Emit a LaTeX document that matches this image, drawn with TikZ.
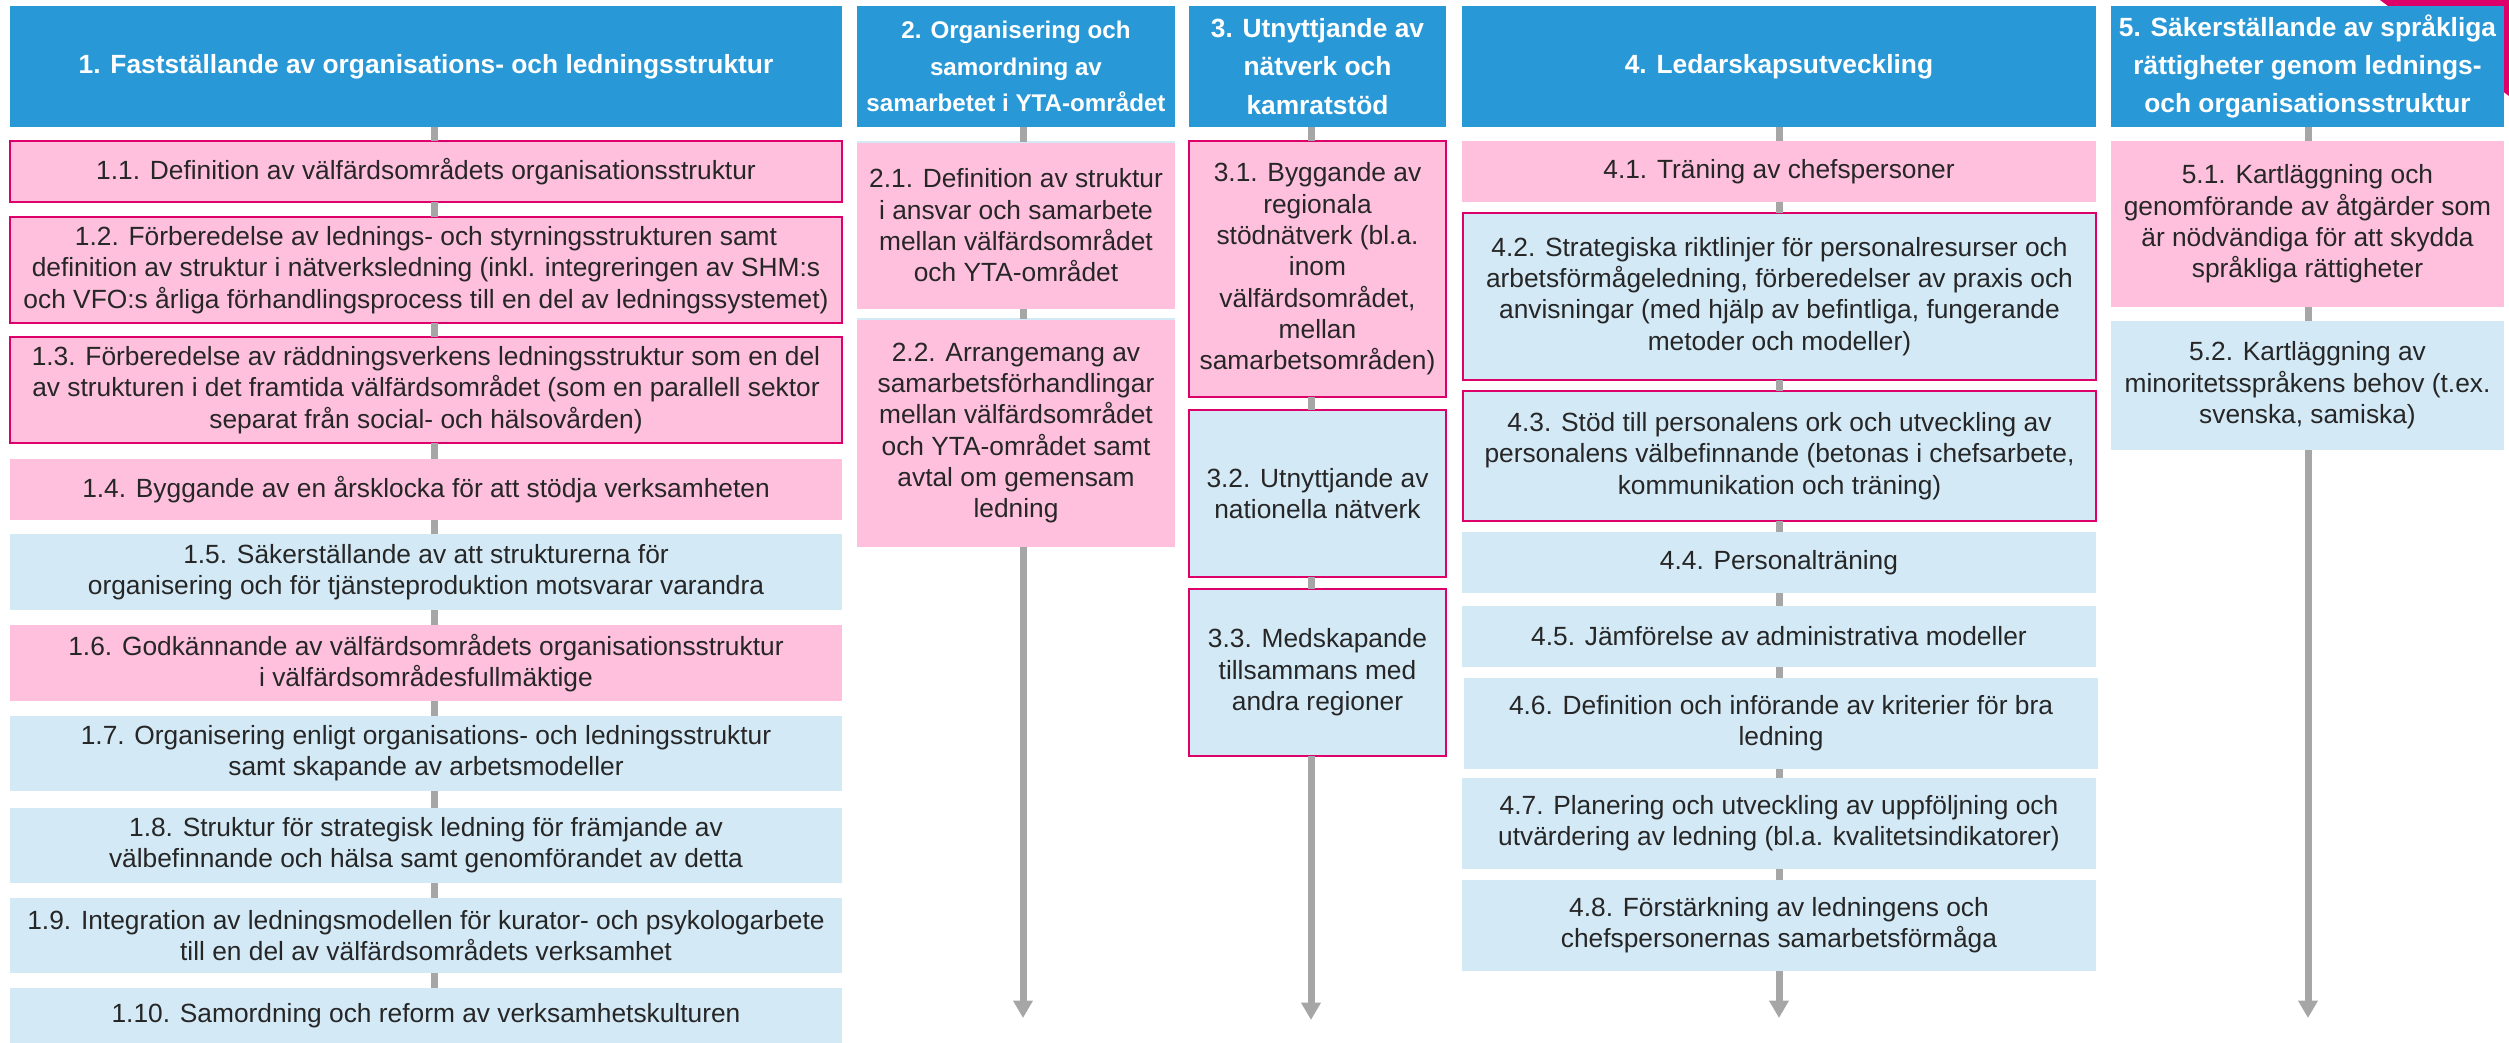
\documentclass[tikz,border=0pt]{standalone}
\usepackage{fontspec}
\setmainfont{Liberation Sans}
\usetikzlibrary{arrows.meta}
\definecolor{hdrblue}{RGB}{41,152,214}
\definecolor{pinkf}{RGB}{255,192,222}
\definecolor{lblue}{RGB}{211,233,246}
\definecolor{mag}{RGB}{222,0,106}
\definecolor{txt}{RGB}{38,38,38}
\definecolor{spine}{RGB}{166,166,166}
\newcommand{\bx}[7]{\node[#6, anchor=north west, minimum width={(#4-#2)*0.3pt}, minimum height={(#5-#3)*0.3pt}] (#1) at (#2,#3) {#7};}
\tikzset{
  base/.style={inner sep=0pt, outer sep=0pt, align=center},
  hdr/.style={base, fill=hdrblue, text=white, font=\bfseries\fontsize{7.9}{11.5}\selectfont},
  hdrs/.style={hdr, font=\bfseries\fontsize{7.25}{11}\selectfont},
  pk/.style={base, fill=pinkf, text=txt, font=\fontsize{7.9}{9.4}\selectfont},
  pkb/.style={pk, draw=mag, line width=0.8pt},
  lb/.style={base, fill=lblue, text=txt, font=\fontsize{7.9}{9.4}\selectfont},
  lbb/.style={lb, draw=mag, line width=0.8pt},
  conn/.style={draw=spine, line width=2.1pt},
  arr/.style={conn, -{Triangle[width=5.6pt,length=5.2pt]}}
}
\begin{document}
\begin{tikzpicture}[x=0.3pt,y=-0.3pt]
\useasboundingbox (0,0) rectangle (2509,1042);
\fill[mag] (2380,0) -- (2509,0) -- (2509,96) -- cycle;
% spine coordinates
\coordinate (sp1) at (434,0);
\coordinate (sp2) at (1023,0);
\coordinate (sp3) at (1311,0);
\coordinate (sp4) at (1779,0);
\coordinate (sp5) at (2308,0);
\coordinate (e2) at (1023,1018);
\coordinate (e3) at (1311,1020);
\coordinate (e4) at (1779,1018);
\coordinate (e5) at (2308,1018);
% column 1
\bx{h1}{10}{6}{842}{127}{hdr}{1. Fastställande av organisations- och ledningsstruktur}
\bx{b11}{10}{141}{842}{202}{pkb}{1.1. Definition av välfärdsområdets organisationsstruktur}
\bx{b12}{10}{217}{842}{323}{pkb}{1.2. Förberedelse av lednings- och styrningsstrukturen samt\\definition av struktur i nätverksledning (inkl. integreringen av SHM:s\\och VFO:s årliga förhandlingsprocess till en del av ledningssystemet)}
\bx{b13}{10}{337}{842}{443}{pkb}{1.3. Förberedelse av räddningsverkens ledningsstruktur som en del\\av strukturen i det framtida välfärdsområdet (som en parallell sektor\\separat från social- och hälsovården)}
\bx{b14}{10}{459}{842}{520}{pk}{1.4. Byggande av en årsklocka för att stödja verksamheten}
\bx{b15}{10}{534}{842}{610}{lb}{1.5. Säkerställande av att strukturerna för\\organisering och för tjänsteproduktion motsvarar varandra}
\bx{b16}{10}{625}{842}{701}{pk}{1.6. Godkännande av välfärdsområdets organisationsstruktur\\i välfärdsområdesfullmäktige}
\bx{b17}{10}{716}{842}{791}{lb}{1.7. Organisering enligt organisations- och ledningsstruktur\\samt skapande av arbetsmodeller}
\bx{b18}{10}{808}{842}{883}{lb}{1.8. Struktur för strategisk ledning för främjande av\\välbefinnande och hälsa samt genomförandet av detta}
\bx{b19}{10}{898}{842}{973}{lb}{1.9. Integration av ledningsmodellen för kurator- och psykologarbete\\till en del av välfärdsområdets verksamhet}
\bx{b110}{10}{988}{842}{1044}{lb}{1.10. Samordning och reform av verksamhetskulturen}
% column 2
\bx{h2}{857}{6}{1175}{127}{hdrs}{2. Organisering och\\samordning av\\samarbetet i YTA-området}
\bx{b21}{857}{142}{1175}{309}{pk}{2.1. Definition av struktur\\i ansvar och samarbete\\mellan välfärdsområdet\\och YTA-området}
\bx{b22}{857}{319}{1175}{547}{pk}{2.2. Arrangemang av\\samarbetsförhandlingar\\mellan välfärdsområdet\\och YTA-området samt\\avtal om gemensam\\ledning}
\draw[lblue, line width=0.4pt] (b21.north west) -- (b21.north east);
\draw[lblue, line width=0.4pt] (b22.north west) -- (b22.north east);
% column 3
\bx{h3}{1189}{6}{1446}{127}{hdr}{3. Utnyttjande av\\nätverk och\\kamratstöd}
\bx{b31}{1189}{141}{1446}{397}{pkb}{3.1. Byggande av\\regionala\\stödnätverk (bl.a.\\inom\\välfärdsområdet,\\mellan\\samarbetsområden)}
\bx{b32}{1189}{410}{1446}{577}{lbb}{3.2. Utnyttjande av\\nationella nätverk}
\bx{b33}{1189}{589}{1446}{756}{lbb}{3.3. Medskapande\\tillsammans med\\andra regioner}
% column 4
\bx{h4}{1462}{6}{2096}{127}{hdr}{4. Ledarskapsutveckling}
\bx{b41}{1462}{141}{2096}{202}{pk}{4.1. Träning av chefspersoner}
\bx{b42}{1463}{213}{2096}{380}{lbb}{4.2. Strategiska riktlinjer för personalresurser och\\arbetsförmågeledning, förberedelser av praxis och\\anvisningar (med hjälp av befintliga, fungerande\\metoder och modeller)}
\bx{b43}{1463}{391}{2096}{521}{lbb}{4.3. Stöd till personalens ork och utveckling av\\personalens välbefinnande (betonas i chefsarbete,\\kommunikation och träning)}
\bx{b44}{1462}{532}{2096}{593}{lb}{4.4. Personalträning}
\bx{b45}{1462}{606}{2096}{667}{lb}{4.5. Jämförelse av administrativa modeller}
\bx{b46}{1464}{678}{2098}{769}{lb}{4.6. Definition och införande av kriterier för bra\\ledning}
\bx{b47}{1462}{778}{2096}{869}{lb}{4.7. Planering och utveckling av uppföljning och\\utvärdering av ledning (bl.a. kvalitetsindikatorer)}
\bx{b48}{1462}{880}{2096}{971}{lb}{4.8. Förstärkning av ledningens och\\chefspersonernas samarbetsförmåga}
% column 5
\bx{h5}{2111}{6}{2504}{127}{hdr}{5. Säkerställande av språkliga\\rättigheter genom lednings-\\och organisationsstruktur}
\bx{b51}{2111}{141}{2504}{307}{pk}{5.1. Kartläggning och\\genomförande av åtgärder som\\är nödvändiga för att skydda\\språkliga rättigheter}
\bx{b52}{2111}{321}{2504}{450}{lb}{5.2. Kartläggning av\\minoritetsspråkens behov (t.ex.\\svenska, samiska)}
% connectors
\foreach \a/\b/\s in {h1/b11/sp1, b11/b12/sp1, b12/b13/sp1, b13/b14/sp1, b14/b15/sp1, b15/b16/sp1, b16/b17/sp1, b17/b18/sp1, b18/b19/sp1, b19/b110/sp1,
  h2/b21/sp2, b21/b22/sp2,
  h3/b31/sp3, b31/b32/sp3, b32/b33/sp3,
  h4/b41/sp4, b41/b42/sp4, b42/b43/sp4, b43/b44/sp4, b44/b45/sp4, b45/b46/sp4, b46/b47/sp4, b47/b48/sp4,
  h5/b51/sp5, b51/b52/sp5}
  \draw[conn] (\a.south -| \s) -- (\b.north -| \s);
\draw[arr] (b22.south -| sp2) -- (e2);
\draw[arr] (b33.south -| sp3) -- (e3);
\draw[arr] (b48.south -| sp4) -- (e4);
\draw[arr] (b52.south -| sp5) -- (e5);
\end{tikzpicture}
\end{document}
